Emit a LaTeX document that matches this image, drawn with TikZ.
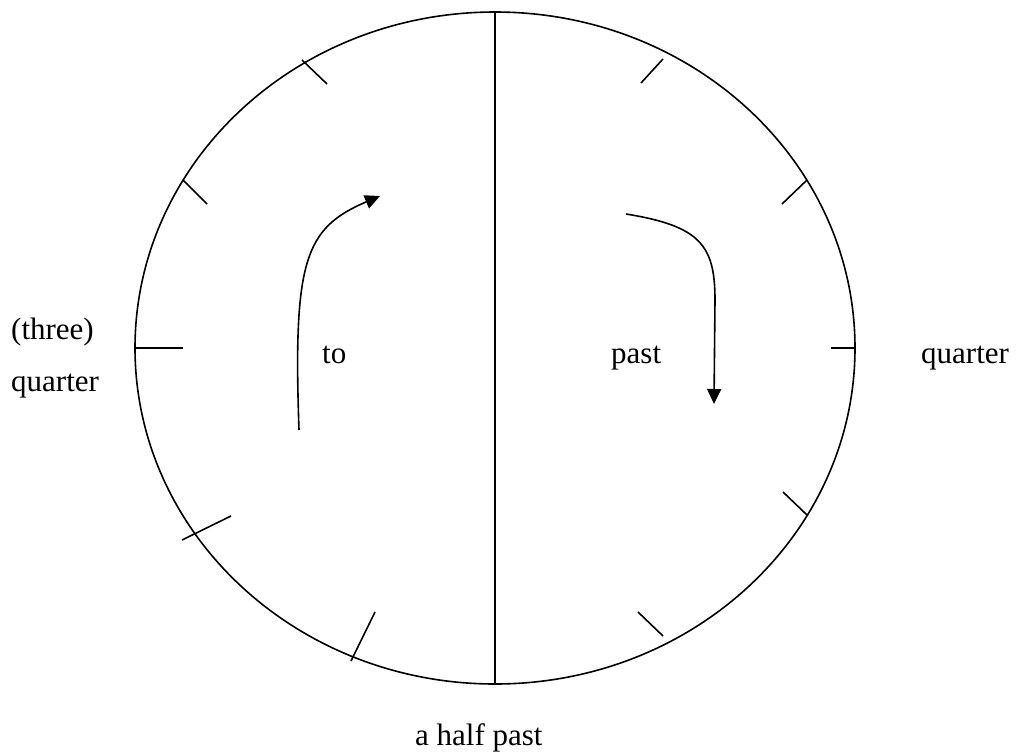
\documentclass[tikz,border=0pt]{standalone}
\usepackage{fontspec}
\setmainfont{Liberation Serif}
\usetikzlibrary{arrows.meta}
\begin{document}
\begin{tikzpicture}[x=1pt,y=-1pt,
  line/.style={line width=1.6pt,line cap=butt},
  tick/.style={line width=1.6pt},
  arr/.style={line width=1.6pt,-{Triangle[length=15pt,width=14pt]}},
  lbl/.style={inner sep=0pt,anchor=base west,font=\fontsize{31}{37}\selectfont}]
\useasboundingbox (0,0) rectangle (1017,753);
\coordinate (c) at (495,348);
\draw[line] (c) ellipse [x radius=360pt, y radius=336pt];
\coordinate (top) at (495,12);
\coordinate (bot) at (495,684);
\draw[line] (top) -- (bot);
% ticks left
\coordinate (tl1) at (302,60); \coordinate (tl2) at (327,84);
\draw[tick] (tl1) -- (tl2);
\coordinate (ul1) at (183,180); \coordinate (ul2) at (207,204);
\draw[tick] (ul1) -- (ul2);
\coordinate (l1) at (135,348); \coordinate (l2) at (183,348);
\draw[tick] (l1) -- (l2);
\coordinate (ll1) at (182,540); \coordinate (ll2) at (231,516);
\draw[tick] (ll1) -- (ll2);
\coordinate (bl1) at (351,661); \coordinate (bl2) at (375,612);
\draw[tick] (bl1) -- (bl2);
% ticks right
\coordinate (tr1) at (663,59); \coordinate (tr2) at (641,83);
\draw[tick] (tr1) -- (tr2);
\coordinate (ur1) at (807,180); \coordinate (ur2) at (782,204);
\draw[tick] (ur1) -- (ur2);
\coordinate (r1) at (855,348); \coordinate (r2) at (831,348);
\draw[tick] (r1) -- (r2);
\coordinate (lr1) at (807,515); \coordinate (lr2) at (783,492);
\draw[tick] (lr1) -- (lr2);
\coordinate (br1) at (663,636); \coordinate (br2) at (638,612);
\draw[tick] (br1) -- (br2);
% arrows
\coordinate (toS) at (299,430);
\coordinate (toE) at (380,196);
\draw[arr] (toS) .. controls (293,260) and (305,228) .. (toE);
\coordinate (paS) at (626,214);
\coordinate (paM) at (715,300);
\coordinate (paE) at (714,404);
\draw[arr] (paS) .. controls (700,226) and (715,245) .. (paM) -- (paE);
% labels
\node[lbl] (three) at (11,339) {(three)};
\node[lbl] (qleft) at (11,391) {quarter};
\node[lbl] (to) at (322,363) {to};
\node[lbl] (past) at (611,363) {past};
\node[lbl] (qright) at (921,363) {quarter};
\node[lbl] (half) at (415,745) {a half past};
\end{tikzpicture}
\end{document}
